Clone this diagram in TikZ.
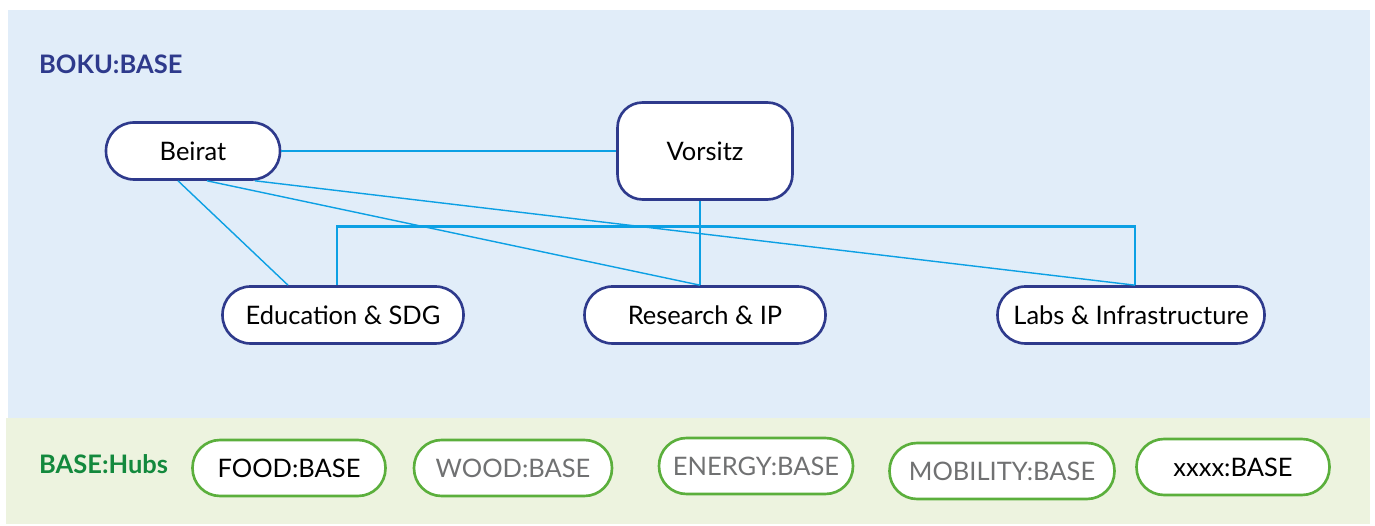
\documentclass[tikz,border=0pt]{standalone}
\usepackage{fontspec}
\setmainfont{Lato}
\usepackage{tikz}
\usetikzlibrary{positioning}

\definecolor{bokublue}{HTML}{2E3A8C}
\definecolor{linkblue}{HTML}{0CA0E4}
\definecolor{panelblue}{HTML}{E1EDF9}
\definecolor{panelgreen}{HTML}{EDF3DF}
\definecolor{hubgreen}{HTML}{5BAF3C}
\definecolor{labelgreen}{HTML}{13893D}
\definecolor{hubgray}{HTML}{707172}

\begin{document}
\begin{tikzpicture}[x=0.02cm,y=-0.02cm,
  unit/.style={draw=bokublue,line width=1.5pt,fill=white,font=\fontsize{14.5}{16}\selectfont,
    minimum height=1.14cm,rounded corners=0.56cm,inner sep=0pt},
  hub/.style={draw=hubgreen,line width=1.5pt,fill=white,font=\fontsize{14.5}{16}\selectfont,
    minimum height=1.12cm,rounded corners=0.55cm,inner sep=0pt},
  tie/.style={draw=linkblue,line width=0.8pt},
  tree/.style={draw=linkblue,line width=1.5pt}]
\useasboundingbox (0,0) rectangle (1375,526);
\fill[panelblue] (8,10) rectangle (1370,418);
\fill[panelgreen] (6,418) rectangle (1370,524);

\node[text=bokublue,font=\fontsize{14.5}{16}\selectfont\bfseries,anchor=west] (boku) at (33,64) {BOKU:BASE};
\node[text=labelgreen,font=\fontsize{14.5}{16}\selectfont\bfseries,anchor=west] (hubs) at (33,464) {BASE:Hubs};

\node[unit,minimum width=3.48cm] (beirat) at (193,151) {Beirat};
\node[unit,minimum width=3.5cm,minimum height=1.94cm,rounded corners=0.5cm] (vorsitz) at (705,151) {Vorsitz};
\node[unit,minimum width=4.82cm] (edu) at (343,315) {Education \& SDG};
\node[unit,minimum width=4.82cm] (research) at (705,315) {Research \& IP};
\node[unit,minimum width=5.34cm] (labs) at (1131,315) {Labs \& Infrastructure};

\draw[tie] (beirat) -- (vorsitz);
\draw[tree] ([xshift=-0.1cm]vorsitz.south) -- ([xshift=-0.1cm]research.north);
\draw[tree] ([xshift=-0.12cm]edu.north) -- ++(0,1.18cm) -| ([xshift=0.08cm]labs.north);
\draw[tie] ([xshift=-0.3cm]beirat.south) -- ([xshift=-1.1cm]edu.north);
\draw[tie] ([xshift=0.28cm]beirat.south) -- ([xshift=-0.1cm]research.north);
\draw[tie] ([xshift=1.24cm]beirat.south) -- ([xshift=0.08cm]labs.north);

\node[hub,minimum width=3.86cm] (food) at (289,468) {FOOD:BASE};
\node[hub,minimum width=3.96cm,text=hubgray] (wood) at (513,468) {WOOD:BASE};
\node[hub,minimum width=3.88cm,text=hubgray] (energy) at (756,466) {ENERGY:BASE};
\node[hub,minimum width=4.5cm,text=hubgray] (mobility) at (1002,471) {MOBILITY:BASE};
\node[hub,minimum width=3.86cm] (xxxx) at (1233,467) {xxxx:BASE};
\end{tikzpicture}
\end{document}
